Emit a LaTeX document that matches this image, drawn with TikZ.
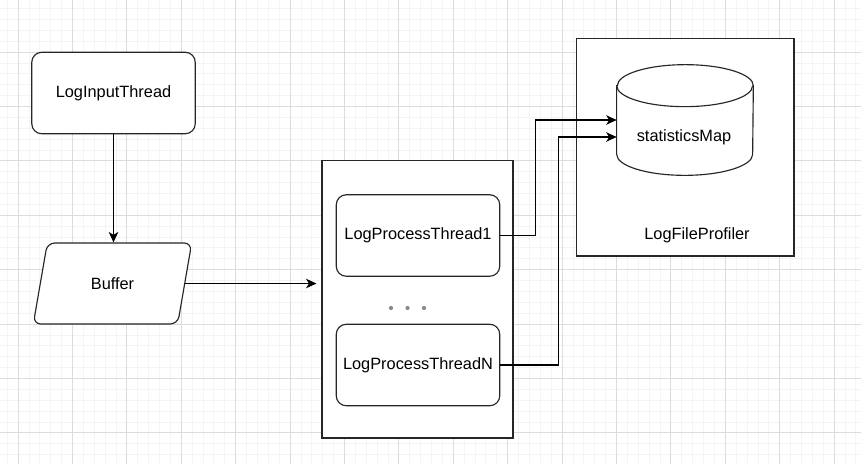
\documentclass[tikz,border=0pt]{standalone}
\usepackage{fontspec}
\setmainfont{Liberation Sans}
\usetikzlibrary{arrows.meta, shapes.geometric}

\definecolor{minorgrid}{HTML}{F4F4F4}
\definecolor{majorgrid}{HTML}{DCDCDC}
\definecolor{dotgray}{HTML}{8A8A8A}
\definecolor{linegray}{HTML}{262626}

\begin{document}
\begin{tikzpicture}[x=0.02cm, y=-0.02cm,
    font=\fontsize{9.3}{11}\selectfont,
    thread/.style={draw=linegray, fill=white, line width=0.65pt, rounded corners=0.2cm,
        minimum width=3.27cm, minimum height=1.63cm},
    frame/.style={draw=linegray, fill=white, line width=0.6pt},
    conn/.style={-{Stealth[length=2.1mm, width=1.9mm, inset=0.6mm]}, line width=0.65pt}]

    % background grid
    \useasboundingbox (0, 0) rectangle (861, 464);
    \fill[white] (0, 0) rectangle (861, 464);
    \foreach \i in {0,...,80} \draw[minorgrid, line width=0.4pt] (7.12+\i*10.88, 0) -- (7.12+\i*10.88, 464);
    \foreach \i in {0,...,43} \draw[minorgrid, line width=0.4pt] (0, -2.4+\i*10.88) -- (861, -2.4+\i*10.88);
    \foreach \i in {0,...,15} \draw[majorgrid, line width=0.5pt] (18+\i*54.4, 0) -- (18+\i*54.4, 464);
    \foreach \i in {0,...,9} \draw[majorgrid, line width=0.5pt] (0, -2.4+\i*54.4) -- (861, -2.4+\i*54.4);

    % input side
    \node[thread] (input) at (113.5, 93) {LogInputThread};
    \node[trapezium, trapezium left angle=76, trapezium right angle=104, trapezium stretches=true,
        draw=linegray, fill=white, line width=0.65pt, rounded corners=0.15cm,
        minimum width=3.18cm, minimum height=1.62cm] (buffer) at (112.5, 283.5) {Buffer};

    % process threads
    \node[frame, minimum width=3.82cm, minimum height=5.56cm] (pool) at (417.5, 299) {};
    \node[thread] (pt1) at (418, 235.5) {LogProcessThread1};
    \node[thread] (ptN) at (418, 365) {LogProcessThreadN};
    \foreach \x in {391, 407.5, 424} \fill[dotgray] (\x, 308) circle[radius=0.042cm];

    % profiler
    \node[frame, minimum width=4.36cm, minimum height=4.36cm] (profiler) at (685, 147) {};
    \node (proflabel) at (697, 235) {LogFileProfiler};
    \node[minimum width=2.72cm, minimum height=2.2cm] (map) at (685, 120) {};
    \draw[draw=linegray, fill=white, line width=0.65pt] ([yshift=-0.42cm]map.north west) -- ([yshift=0.42cm]map.south west)
        arc[start angle=180, end angle=360, x radius=1.36cm, y radius=0.42cm]
        -- ([yshift=-0.42cm]map.north east)
        arc[start angle=0, end angle=180, x radius=1.36cm, y radius=0.42cm] -- cycle;
    \draw[draw=linegray, line width=0.65pt] ([yshift=-0.42cm]map.north west)
        arc[start angle=180, end angle=360, x radius=1.36cm, y radius=0.42cm];
    \node (maplabel) at (684, 137) {statisticsMap};

    % connectors
    \draw[conn] (input.south) -- (input.south |- buffer.north);
    \draw[conn, shorten >=0.1cm] (buffer.east) -- (buffer.east -| pool.west);
    \draw[conn] (pt1.east) -- ++(35, 0) |- (map.west);
    \draw[conn] (ptN.east) -- ++(58, 0) |- (map.west |- maplabel);
\end{tikzpicture}
\end{document}
